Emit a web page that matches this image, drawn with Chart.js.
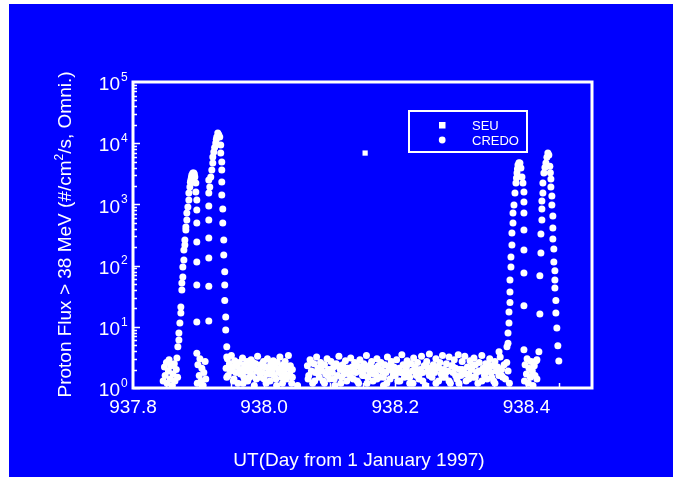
<!DOCTYPE html>
<html>
<head>
<meta charset="utf-8">
<script src="https://cdn.jsdelivr.net/npm/chart.js@4.4.1/dist/chart.umd.min.js"></script>
<style>
html,body{margin:0;padding:0;background:#fff;}
canvas{display:block;}
</style>
</head>
<body>
<canvas id="c" width="673" height="477"></canvas>
<script>
// ---------- DATA ----------
const xTickValues = [937.8, 938.0, 938.2, 938.4];
const xTickLabels = ['937.8', '938.0', '938.2', '938.4'];
const yExponents = [0, 1, 2, 3, 4, 5];
const xAxisTitle = 'UT(Day from 1 January 1997)';
const legendLabels = ['SEU', 'CREDO'];

// SEU event
const seuDay = [938.154];
const seuFlux = [6900];

// CREDO: first peak (rising edge and top)
const peak1Day = [937.8684,937.8700,937.8700,937.8715,937.8730,937.8730,937.8745,937.8745,937.8760,937.8760,937.8776,937.8776,937.8791,937.8791,937.8806,937.8806,937.8821,937.8821,937.8837,937.8852,937.8852,937.8867,937.8875,937.8882,937.8890,937.8897,937.8912,937.8928,937.8935,937.8943,937.8958,937.8958];
const peak1Flux = [4.7,6.1,7.9,11.5,16.8,21,40,52,65,95,124,180,217,262,382,427,556,723,907,1180,1535,1925,2300,2505,2750,3020,3250,3260,3100,2800,2240,1595];
// CREDO: sampled columns between first and second peak
const colADay = [937.8973,937.8973,937.8973,937.8973,937.8973,937.8973,937.8973,937.8973];
const colAFlux = [1180,810,497,243,115,48,12,3.7];
const colBDay = [937.9156,937.9156,937.9156,937.9156,937.9156,937.9156,937.9156,937.9156];
const colBFlux = [2505,1535,942,556,282,133,46,12.4];
// CREDO: second peak
const peak2Day = [937.9171,937.9186,937.9202,937.9217,937.9217,937.9232,937.9245,937.9262,937.9270,937.9278,937.9293,937.9308,937.9323,937.9338,937.9338,937.9354,937.9354,937.9354,937.9354,937.9369,937.9369,937.9384,937.9384,937.9399,937.9399,937.9399,937.9414,937.9414,937.9430,937.9430];
const peak2Flux = [1925,2800,3650,4750,5950,7180,8500,10080,11500,12620,14678,13800,12620,9350,6920,4930,3650,2320,1425,841,497,262,149,79,48,27,14.5,8.9,4.7,3.2];
// CREDO: third peak
const peak3Day = [938.3582,938.3703,938.3719,938.3719,938.3734,938.3734,938.3749,938.3749,938.3749,938.3764,938.3764,938.3779,938.3779,938.3795,938.3795,938.3810,938.3825,938.3840,938.3848,938.3856,938.3863,938.3871,938.3886,938.3901,938.3916,938.3932,938.3947];
const peak3Flux = [3.9,4.7,5.4,7.9,11.5,17.5,25,37,58,95,138,217,341,497,723,977,1535,2240,2700,3260,3800,4400,4800,4750,3930,2800,2240];
const colCDay = [938.3962,938.3962,938.3962,938.3962,938.3962,938.3962,938.3962,938.3962];
const colCFlux = [1595,1095,723,382,180,76,22,4.2];
// CREDO: fourth peak
const peak4Day = [938.4160,938.4190,938.4205,938.4205,938.4221,938.4221,938.4236,938.4236,938.4236,938.4251,938.4251,938.4266,938.4282,938.4297,938.4312,938.4327,938.4342,938.4357,938.4365,938.4373,938.4373,938.4388,938.4388,938.4403,938.4403,938.4403,938.4418,938.4418,938.4434,938.4434,938.4434,938.4449,938.4449,938.4464,938.4479,938.4494];
const peak4Flux = [2.9,3.9,16.2,68,161,328,556,841,1137,1535,2240,3260,4000,4750,5900,6920,6410,4200,3300,2600,1925,1372,977,646,411,272,187,115,82,58,43,27,16.8,9.6,4.9,2.76];
// CREDO: quiet background
const baseDay = [
937.846,937.848,937.849,937.851,937.852,937.854,937.855,937.857,937.858,937.860,937.861,937.863,937.864,937.866,937.867,937.868,
937.898,937.899,937.901,937.902,937.904,937.905,937.907,937.908,937.910,937.911,
937.942,937.944,937.945,937.947,937.949,937.950,937.952,937.954,937.955,937.957,937.959,937.960,937.962,937.964,937.965,937.967,937.969,937.970,937.972,937.974,937.975,937.977,937.979,937.980,937.982,937.984,937.985,937.987,937.989,937.990,937.992,937.994,937.995,937.997,937.999,938.000,938.002,938.004,938.005,938.007,938.009,938.010,938.012,938.014,938.015,938.017,938.019,938.020,938.022,938.024,938.025,938.027,938.029,938.030,938.032,938.034,938.035,938.037,938.039,938.040,938.042,938.043,938.051,
938.066,938.068,938.070,938.072,938.074,938.076,938.078,938.080,938.082,938.084,938.086,938.088,938.090,938.092,938.094,938.096,938.098,938.100,938.102,938.104,938.106,938.108,938.110,938.112,938.114,938.116,938.118,938.120,938.122,938.124,938.126,938.128,938.130,938.132,938.134,938.136,938.138,938.140,938.142,938.144,938.146,938.148,938.150,938.152,938.154,938.156,938.158,938.160,938.162,938.164,938.166,938.168,938.170,938.172,938.174,938.176,938.178,938.180,938.182,938.184,938.186,938.188,938.190,938.192,938.194,938.196,938.198,938.200,938.202,938.204,938.206,938.208,938.210,938.212,938.214,938.216,938.218,938.220,938.222,938.224,938.226,938.228,938.230,938.232,938.234,938.236,938.238,938.240,938.242,938.244,938.246,938.248,938.250,938.252,938.254,938.256,938.258,938.260,938.262,938.264,938.266,938.268,938.270,938.272,938.274,938.276,938.278,938.280,938.282,938.284,938.286,938.288,938.290,938.292,938.294,938.296,938.298,938.300,938.302,938.304,938.306,938.308,938.310,938.312,938.314,938.316,938.318,938.320,938.322,938.324,938.326,938.328,938.330,938.332,938.334,938.336,938.338,938.340,938.342,938.344,938.346,938.348,938.350,938.352,938.354,938.356,938.358,938.360,938.362,938.364,938.366,938.368,938.370,938.372,938.374,
938.397,938.398,938.400,938.401,938.403,938.404,938.406,938.407,938.409,938.410,938.412,938.413,938.415,938.416];
const baseFlux = [
1.3,2.2,1.6,2.6,1.2,1.9,2.9,1.4,2.3,1.1,1.7,2.5,1.3,2.0,3.1,1.5,
1.2,2.4,1.6,3.0,1.3,2.1,1.1,1.8,2.7,1.4,
2.1,3.0,1.6,2.5,1.9,3.4,2.2,1.4,2.8,1.8,2.3,1.2,2.6,1.7,2.0,3.1,1.5,2.4,1.9,2.7,1.3,2.2,1.8,2.9,1.6,2.1,1.1,2.5,1.9,3.3,2.0,1.5,2.4,1.8,2.7,1.4,2.2,1.7,3.0,2.0,1.3,2.5,1.9,2.8,1.6,2.2,1.1,2.6,1.8,3.2,2.1,1.5,2.4,1.9,2.7,1.4,2.2,3.4,1.7,2.3,1.2,2.0,1.1,
2.3,1.6,2.9,1.9,1.2,2.5,1.8,3.2,2.1,1.5,2.6,1.9,1.3,2.4,1.7,3.0,2.0,1.4,2.7,1.8,2.2,1.1,2.5,1.6,3.3,2.0,1.5,2.4,1.9,2.8,1.3,2.1,1.7,3.1,2.2,1.4,2.6,1.8,2.3,1.2,2.9,1.9,1.6,2.5,2.0,3.4,1.5,2.2,1.8,2.7,1.3,2.1,1.7,3.0,2.3,1.5,2.6,1.9,1.1,2.4,1.8,3.2,2.0,1.4,2.7,1.9,2.2,1.6,2.9,1.3,2.1,1.8,3.5,2.4,1.5,2.0,2.8,1.7,1.2,2.5,1.9,3.1,2.2,1.6,2.6,1.4,2.0,3.3,1.8,2.3,1.1,2.7,1.9,3.6,2.1,1.5,2.4,1.8,3.0,2.2,1.3,2.6,1.7,3.4,2.0,1.5,2.5,1.9,3.2,1.2,2.3,1.8,2.9,2.1,1.4,3.5,2.0,1.6,2.7,1.9,3.3,1.3,2.2,1.7,2.8,2.0,1.5,3.1,2.4,1.8,1.2,2.6,1.9,3.4,2.1,1.6,2.5,1.4,2.0,3.0,1.8,2.3,1.3,2.7,1.9,2.2,1.6,3.2,2.0,1.5,2.4,1.4,2.6,1.9,1.2,
1.3,2.4,1.7,3.0,1.2,2.1,1.5,2.7,1.9,1.1,2.3,1.6,2.8,1.4];
// CREDO: second background channel (interleaved samples)
const base2Day = [
937.943,937.948,937.953,937.958,937.963,937.968,937.973,937.978,937.983,937.988,937.993,937.998,938.003,938.008,938.013,938.018,938.023,938.028,938.033,938.038,938.043,
938.067,938.072,938.077,938.082,938.087,938.092,938.097,938.102,938.107,938.112,938.117,938.122,938.127,938.132,938.137,938.142,938.147,938.152,938.157,938.162,938.167,938.172,938.177,938.182,938.187,938.192,938.197,938.202,938.207,938.212,938.217,938.222,938.227,938.232,938.237,938.242,938.247,938.252,938.257,938.262,938.267,938.272,938.277,938.282,938.287,938.292,938.297,938.302,938.307,938.312,938.317,938.322,938.327,938.332,938.337,938.342,938.347,938.352,938.357,938.362];
const base2Flux = [
1.5,2.0,1.3,2.4,1.9,1.2,2.2,1.5,2.6,1.4,1.8,2.3,1.2,1.7,2.1,1.4,2.0,1.2,1.6,2.1,1.5,
1.4,2.6,1.3,1.8,2.2,1.2,1.6,2.0,1.4,2.3,1.2,1.7,2.1,1.5,1.9,1.3,2.2,1.6,1.2,2.4,1.7,1.4,2.0,1.5,1.2,2.3,1.6,1.9,1.3,1.8,2.2,1.5,1.2,2.0,1.7,1.3,2.4,1.6,1.9,1.2,2.1,1.5,1.8,1.3,2.3,1.6,1.2,2.0,1.7,1.4,2.2,1.5,1.9,1.3,1.8,2.4,1.5,1.2,2.0,1.6];

// ---------- BUILD ----------
function pts(xs, ys){ return xs.map((x,i)=>({x:x, y:ys[i]})); }
const credoPoints = [].concat(
  pts(baseDay, baseFlux), pts(base2Day, base2Flux),
  pts(peak1Day, peak1Flux), pts(colADay, colAFlux), pts(colBDay, colBFlux),
  pts(peak2Day, peak2Flux), pts(peak3Day, peak3Flux), pts(colCDay, colCFlux),
  pts(peak4Day, peak4Flux)
);
const seuPoints = pts(seuDay, seuFlux);

const W = 673, H = 477;
const FONT = '"Liberation Sans", Arial, Helvetica, sans-serif';

const deco = {
  id: 'deco',
  beforeDraw(chart){
    const c = chart.ctx;
    c.save();
    c.fillStyle = '#ffffff'; c.fillRect(0,0,W,H);
    c.fillStyle = '#0000ff'; c.fillRect(9,4,W-9,H-4);
    c.restore();
  },
  afterDraw(chart){
    const c = chart.ctx, a = chart.chartArea;
    const xs = chart.scales.x, ys = chart.scales.y;
    c.save();
    c.strokeStyle = '#ffffff'; c.fillStyle = '#ffffff';
    // y ticks
    c.lineWidth = 1.5;
    for (let e = 0; e < 5; e++){
      for (let m = 1; m <= 9; m++){
        const py = Math.round(ys.getPixelForValue(m*Math.pow(10,e))) + 0.5;
        const len = (m===1) ? 7 : 4;
        c.beginPath(); c.moveTo(a.left, py); c.lineTo(a.left+len, py); c.stroke();
      }
    }
    // x ticks
    for (let k = 1; k < 14; k++){
      const v = 937.8 + 0.05*k;
      const px = Math.round(xs.getPixelForValue(v)) + 0.5;
      const major = (k % 4 === 0);
      const len = major ? 8 : 5;
      c.beginPath(); c.moveTo(px, a.bottom); c.lineTo(px, a.bottom-len); c.stroke();
    }
    // frame
    c.lineWidth = 3;
    c.strokeRect(a.left, a.top, a.right-a.left, a.bottom-a.top);
    // y tick labels
    yExponents.forEach(e => {
      const py = ys.getPixelForValue(Math.pow(10,e));
      c.font = '19px ' + FONT;
      c.textAlign = 'right'; c.textBaseline = 'middle';
      c.fillText('10', 120, py + 3);
      c.font = '12px ' + FONT;
      c.textAlign = 'left';
      c.fillText(String(e), 121, py - 4.5);
    });
    // x tick labels
    c.font = '19px ' + FONT;
    c.textAlign = 'center'; c.textBaseline = 'alphabetic';
    xTickValues.forEach((v,i) => {
      c.fillText(xTickLabels[i], xs.getPixelForValue(v), 413);
    });
    // x title
    c.fillText(xAxisTitle, 359, 466);
    // y title with superscript
    c.save();
    c.translate(71, 234.5);
    c.rotate(-Math.PI/2);
    const p1 = 'Proton Flux > 38 MeV (#/cm', p2 = '2', p3 = '/s, Omni.)';
    c.font = '19px ' + FONT; const w1 = c.measureText(p1).width, w3 = c.measureText(p3).width;
    c.font = '12px ' + FONT; const w2 = c.measureText(p2).width;
    let sx = -(w1+w2+w3)/2;
    c.textAlign = 'left'; c.textBaseline = 'alphabetic';
    c.font = '19px ' + FONT; c.fillText(p1, sx, 0); sx += w1;
    c.font = '12px ' + FONT; c.fillText(p2, sx, -8); sx += w2;
    c.font = '19px ' + FONT; c.fillText(p3, sx, 0);
    c.restore();
    // legend
    c.lineWidth = 2;
    c.strokeRect(409, 111, 118, 41);
    c.fillRect(439, 122, 6.5, 6.5);
    c.beginPath(); c.arc(442.2, 140, 3.4, 0, Math.PI*2); c.fill();
    c.font = '13px ' + FONT; c.textAlign = 'left'; c.textBaseline = 'alphabetic';
    c.fillText(legendLabels[0], 472, 129.5);
    c.fillText(legendLabels[1], 472, 144.5);
    c.restore();
  }
};

new Chart(document.getElementById('c'), {
  type: 'scatter',
  data: {
    datasets: [
      { label: 'SEU', data: seuPoints, pointStyle: 'rect', pointRadius: 3.7, backgroundColor: '#ffffff', borderWidth: 0, clip: 0 },
      { label: 'CREDO', data: credoPoints, pointStyle: 'circle', pointRadius: 3.5, backgroundColor: '#ffffff', borderWidth: 0, clip: 0 }
    ]
  },
  options: {
    responsive: false,
    devicePixelRatio: 1,
    animation: false,
    events: [],
    layout: { padding: { left: 133, right: 81, top: 82, bottom: 89 } },
    plugins: { legend: { display: false }, tooltip: { enabled: false } },
    scales: {
      x: { type: 'linear', min: 937.8, max: 938.5, display: false },
      y: { type: 'logarithmic', min: 1, max: 100000, display: false }
    }
  },
  plugins: [deco]
});
</script>
</body>
</html>
